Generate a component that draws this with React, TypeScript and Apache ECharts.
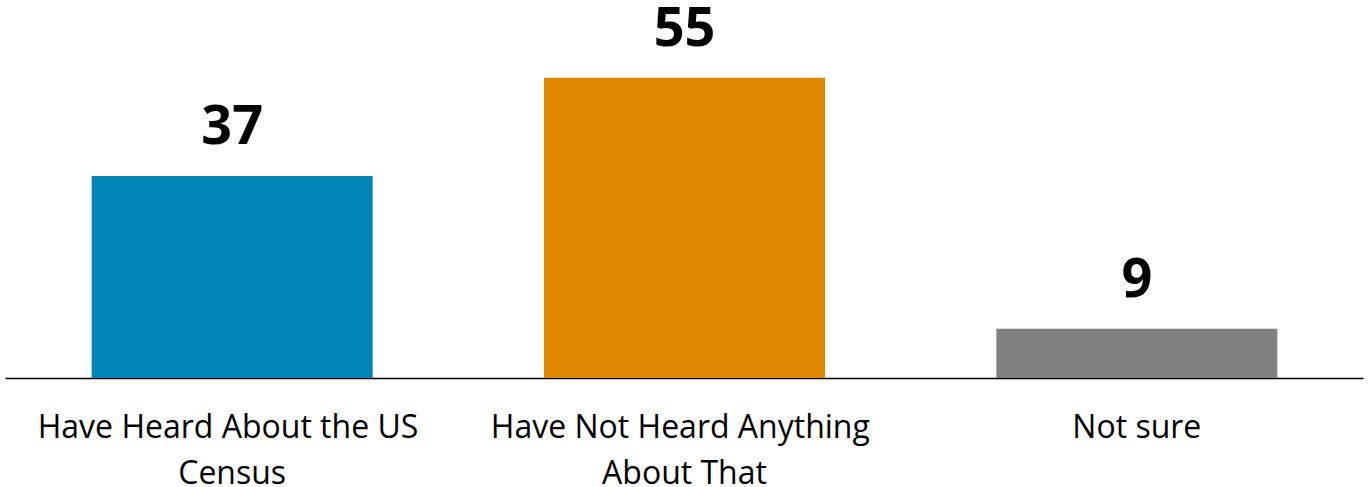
import React, { useEffect, useRef } from "react";
import * as echarts from "echarts";

const categories = [
  "Have Heard About the US Census",
  "Have Not Heard Anything About That",
  "Not sure",
];
const values = [37, 55, 9];
const barColors = ["#0085B6", "#DF8500", "#808080"];

export default function App() {
  const ref = useRef<HTMLDivElement>(null);
  useEffect(() => {
    if (!ref.current) return;
    const chart = echarts.init(ref.current, null, { renderer: "svg" });
    chart.setOption({
      animation: false,
      grid: {
        left: 6,
        right: 5,
        top: 50.4,
        height: 327.6,
        containLabel: false,
        outerBoundsMode: "none",
      },
      xAxis: {
        type: "category",
        data: categories,
        axisLine: { show: true, lineStyle: { color: "#000", width: 1.3 } },
        axisTick: { show: false },
        axisLabel: {
          color: "#000",
          fontFamily: "Open Sans",
          fontSize: 32,
          lineHeight: 46,
          margin: 24,
          width: 420,
          overflow: "break",
          interval: 0,
        },
      },
      yAxis: {
        type: "value",
        min: 0,
        max: 60,
        show: false,
        splitLine: { show: false },
      },
      series: [
        {
          type: "bar",
          barWidth: 281,
          data: values.map((v, i) => ({ value: v, itemStyle: { color: barColors[i] } })),
          label: {
            show: true,
            position: "top",
            distance: 31,
            color: "#000",
            fontFamily: "Open Sans",
            fontWeight: "bold",
            fontSize: 54,
            lineHeight: 44,
          },
        },
      ],
    });
    return () => chart.dispose();
  }, []);
  return (
    <div
      ref={ref}
      style={{ position: "absolute", left: 0, top: 0, width: 1368, height: 487, background: "#fff" }}
    />
  );
}
